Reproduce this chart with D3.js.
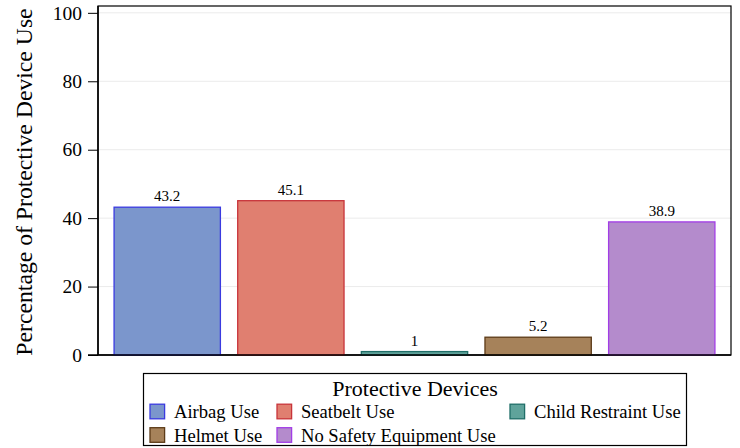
<!DOCTYPE html>
<html><head><meta charset="utf-8">
<script src="https://cdn.jsdelivr.net/npm/d3@7"></script>
<style>body{margin:0;background:#fff}svg{display:block}svg text{font-family:'Liberation Serif',Tinos,Times,'Nimbus Roman','DejaVu Serif',serif !important;fill:#000}</style>
</head><body><svg id="c" width="740" height="448"></svg>
<script>
const categories = ["Airbag Use","Seatbelt Use","Child Restraint Use","Helmet Use","No Safety Equipment Use"];
const values = [43.2, 45.1, 1, 5.2, 38.9];
const fills = ["#7b96cc","#e07f70","#5fa39b","#a6825a","#b48bcc"];
const strokes = ["#3a3ae0","#c8343a","#1f6e68","#5c3b18","#a23de6"];
const yTicks = [0,20,40,60,80,100];

const svg = d3.select("#c");
const L=98, R=731, T=6, B=355;
const x = d3.scaleBand().domain(categories).range([L,R]).paddingInner(0.14).paddingOuter(0.13);
const y = d3.scaleLinear().domain([0,102]).range([B,T]);

// grid
svg.append("g").selectAll("line").data(yTicks).join("line")
  .attr("x1",L).attr("x2",R).attr("y1",d=>y(d)).attr("y2",d=>y(d))
  .attr("stroke","#ebebeb").attr("stroke-width",1);

// frame
svg.append("rect").attr("x",L).attr("y",T).attr("width",R-L).attr("height",B-T)
  .attr("fill","none").attr("stroke","#000").attr("stroke-width",1.2);

// bars
svg.append("g").selectAll("rect").data(values).join("rect")
  .attr("x",(d,i)=>x(categories[i])).attr("width",x.bandwidth())
  .attr("y",d=>y(d)).attr("height",d=>B-y(d))
  .attr("fill",(d,i)=>fills[i]).attr("stroke",(d,i)=>strokes[i]).attr("stroke-width",1.3);

// value labels
svg.append("g").selectAll("text").data(values).join("text")
  .attr("x",(d,i)=>x(categories[i])+x.bandwidth()/2).attr("y",d=>y(d)-6)
  .attr("text-anchor","middle").attr("font-size",15).text(d=>d);

// y axis
const ya = svg.append("g").attr("transform",`translate(${L},0)`)
  .call(d3.axisLeft(y).tickValues(yTicks).tickSize(10).tickPadding(6));
ya.attr("font-family",null);
ya.select(".domain").attr("stroke","#000").attr("stroke-width",1.5).attr("d",`M0,${T}V${B}`);
ya.selectAll(".tick line").attr("stroke","#000").attr("stroke-width",1);
ya.selectAll(".tick text").attr("font-size",19.5).attr("fill","#000");

// x baseline
svg.append("line").attr("x1",L-10).attr("x2",R).attr("y1",B).attr("y2",B).attr("stroke","#000").attr("stroke-width",1.5);

// y title
svg.append("text").attr("transform",`translate(31.5,182) rotate(-90)`)
  .attr("text-anchor","middle").attr("font-size",23.7).text("Percentage of Protective Device Use");

// legend
const lg = svg.append("g");
lg.append("rect").attr("x",143.5).attr("y",373.5).attr("width",543).attr("height",72)
  .attr("fill","#fff").attr("stroke","#000").attr("stroke-width",1.2);
lg.append("text").attr("x",415).attr("y",396).attr("text-anchor","middle").attr("font-size",22).text("Protective Devices");
const legPos = [[150,411.5],[277,411.5],[510,411.5],[150,435],[277,435]];
categories.forEach((c,i)=>{
  const [lx,ly]=legPos[i];
  lg.append("rect").attr("x",lx).attr("y",ly-7.3).attr("width",14.6).attr("height",14.6)
    .attr("fill",fills[i]).attr("stroke",strokes[i]).attr("stroke-width",1.3);
  lg.append("text").attr("x",lx+24).attr("y",ly+6.5).attr("font-size",18.6).text(c);
});
</script></body></html>
